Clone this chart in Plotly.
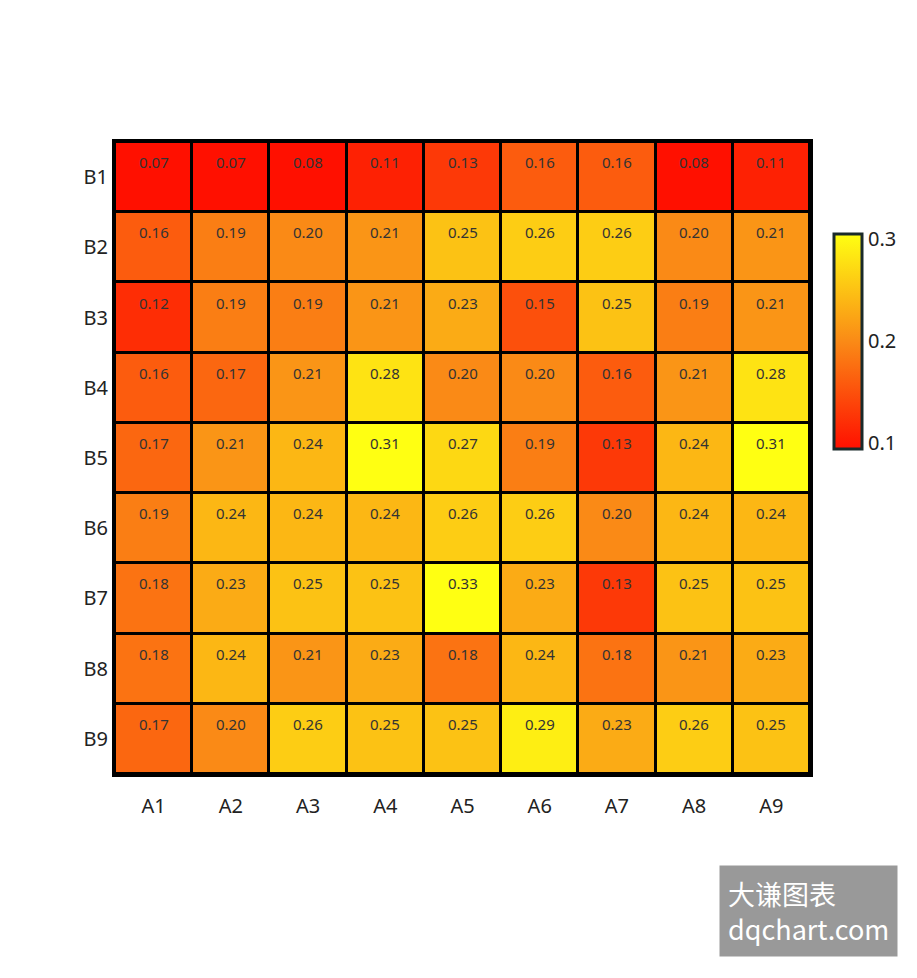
import plotly.graph_objects as go

cols = ["A1", "A2", "A3", "A4", "A5", "A6", "A7", "A8", "A9"]
rows = ["B1", "B2", "B3", "B4", "B5", "B6", "B7", "B8", "B9"]

b1 = [0.07, 0.07, 0.08, 0.11, 0.13, 0.16, 0.16, 0.08, 0.11]
b2 = [0.16, 0.19, 0.20, 0.21, 0.25, 0.26, 0.26, 0.20, 0.21]
b3 = [0.12, 0.19, 0.19, 0.21, 0.23, 0.15, 0.25, 0.19, 0.21]
b4 = [0.16, 0.17, 0.21, 0.28, 0.20, 0.20, 0.16, 0.21, 0.28]
b5 = [0.17, 0.21, 0.24, 0.31, 0.27, 0.19, 0.13, 0.24, 0.31]
b6 = [0.19, 0.24, 0.24, 0.24, 0.26, 0.26, 0.20, 0.24, 0.24]
b7 = [0.18, 0.23, 0.25, 0.25, 0.33, 0.23, 0.13, 0.25, 0.25]
b8 = [0.18, 0.24, 0.21, 0.23, 0.18, 0.24, 0.18, 0.21, 0.23]
b9 = [0.17, 0.20, 0.26, 0.25, 0.25, 0.29, 0.23, 0.26, 0.25]
z = [b1, b2, b3, b4, b5, b6, b7, b8, b9]

fig = go.Figure(go.Heatmap(
    z=z, x=cols, y=rows, xgap=3, ygap=3,
    zmin=0.095, zmax=0.305,
    colorscale=[[0, "#ff1000"], [0.5, "#fa8a16"], [1, "#ffff12"]],
    hoverinfo="skip",
    colorbar=dict(thickness=28, len=0.34, y=0.685, x=1.035, xanchor="left", yanchor="middle",
                  xpad=0, ypad=0,
                  outlinecolor="#1a2a2a", outlinewidth=3,
                  tickvals=[0.1, 0.2, 0.3], ticks="",
                  tickfont=dict(size=20, color="#222", family="Noto Sans")),
))

# cell labels sit in the upper part of each cell
annos = []
for r, vals in zip(rows, z):
    for c, v in zip(cols, vals):
        annos.append(dict(x=c, y=r, text=f"{v:.2f}", showarrow=False, yshift=15,
                          font=dict(size=15, color="#333", family="Noto Sans")))
annos.append(dict(xref="paper", yref="paper", x=1.127, y=-0.29, xanchor="right",
                  yanchor="bottom", showarrow=False, bgcolor="#999999", borderpad=8,
                  text="大谦图表<br>dqchart.com", align="left",
                  font=dict(size=27, color="white", family="Noto Sans CJK SC")))

fig.update_layout(
    width=917, height=978, paper_bgcolor="white", plot_bgcolor="black",
    margin=dict(l=107, r=115, t=134, b=212, autoexpand=False),
    annotations=annos,
)
fig.update_xaxes(side="bottom", showgrid=False, zeroline=False, ticks="", automargin=False,
                 showline=True, linecolor="black", linewidth=3, mirror=True,
                 tickfont=dict(size=20, color="#222", family="Noto Sans"), ticklabelstandoff=12)
fig.update_yaxes(autorange="reversed", showgrid=False, zeroline=False, ticks="", automargin=False,
                 showline=True, linecolor="black", linewidth=3, mirror=True,
                 tickfont=dict(size=20, color="#222", family="Noto Sans"))

fig.write_html("out.html")
